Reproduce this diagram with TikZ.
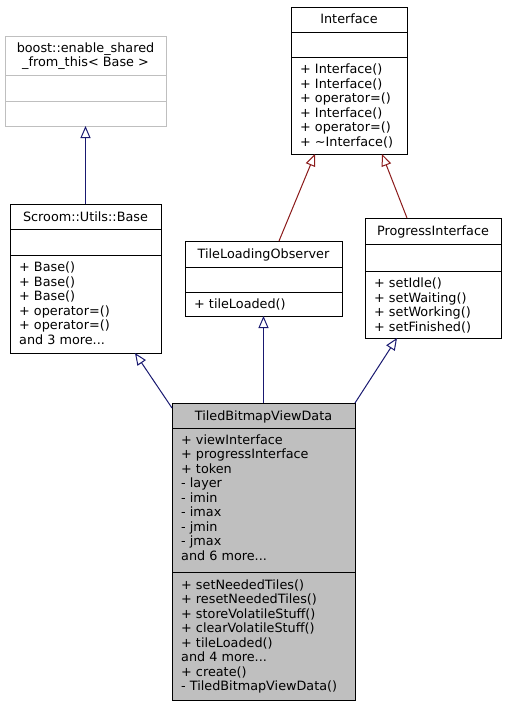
\documentclass[tikz,border=0pt]{standalone}
\usepackage{fontspec}
\setmainfont{DejaVu Sans}
\usetikzlibrary{arrows.meta,calc}
\definecolor{edgeblue}{HTML}{191970}
\definecolor{edgered}{HTML}{8B1A1A}
\definecolor{boxgrey}{HTML}{BFBFBF}
\definecolor{lightframe}{HTML}{BFBFBF}
\newcommand\umlframe[8]{% name, x1,y1,x2,y2,sep1,sep2, style
  \node[box,#8,minimum width=#4pt-#2pt,minimum height=#5pt-#3pt] (#1) at (#2,#3) {};
  \draw[#8,fill=none] (#2,#6) -- (#4,#6);
  \draw[#8,fill=none] (#2,#7) -- (#4,#7);
}
\newcommand\moredots{...}
\begin{document}
\begin{tikzpicture}[x=1pt,y=-1pt,
  box/.style={draw=black, line width=1pt, anchor=north west, inner sep=0pt, outer sep=0pt},
  plainbox/.style={draw=black, line width=1pt},
  greybox/.style={draw=black, line width=1pt, fill=boxgrey},
  ghostbox/.style={draw=lightframe, line width=1pt},
  txt/.style={anchor=base west, inner sep=0pt, font=\fontsize{12.8}{14.5}\selectfont},
  ttl/.style={anchor=base, inner sep=0pt, font=\fontsize{12.8}{14.5}\selectfont},
  inh/.style={-{Triangle[open,length=12pt,width=10pt]}, line width=1pt, draw=edgeblue},
  inhr/.style={-{Triangle[open,length=12pt,width=10pt]}, line width=1pt, draw=edgered}]
\useasboundingbox (0,0) rectangle (507,705);

% boost::enable_shared_from_this< Base >
\umlframe{boost}{5}{36}{166}{126}{75}{101}{ghostbox}
\node[ttl] (boostt1) at (85.5,52) {boost::enable\_shared};
\node[ttl] (boostt2) at (85.5,66.5) {\_from\_this< Base >};

% Interface
\umlframe{iface}{291}{7}{407}{154}{32}{57}{plainbox}
\node[ttl] (ifacet) at (349,23) {Interface};
\foreach \t [count=\i from 0] in {+ Interface(),+ Interface(),+ operator=(),+ Interface(),+ operator=(),{+ \textasciitilde Interface()}}
  \node[txt] (ifacem\i) at (300,73.5+14.5*\i) {\t};

% Scroom::Utils::Base
\umlframe{base}{10}{204}{161}{353}{229}{255}{plainbox}
\node[ttl] (baset) at (85.5,221) {Scroom::Utils::Base};
\foreach \t [count=\i from 0] in {+ Base(),+ Base(),+ Base(),+ operator=(),+ operator=(),and 3 more\moredots}
  \node[txt] (basem\i) at (19,271.5+14.5*\i) {\t};

% TileLoadingObserver
\umlframe{tlo}{185}{241}{342}{316}{267}{292}{plainbox}
\node[ttl] (tlot) at (263.5,258) {TileLoadingObserver};
\node[txt] (tlom0) at (194,308.5) {+ tileLoaded()};

% ProgressInterface
\umlframe{pi}{365}{218}{501}{338}{244}{271}{plainbox}
\node[ttl] (pit) at (433,235) {ProgressInterface};
\foreach \t [count=\i from 0] in {+ setIdle(),+ setWaiting(),+ setWorking(),+ setFinished()}
  \node[txt] (pim\i) at (374,287.5+14.5*\i) {\t};

% TiledBitmapViewData
\umlframe{tbvd}{172}{403}{355}{700}{428}{572}{greybox}
\node[ttl] (tbvdt) at (263.5,420) {TiledBitmapViewData};
\foreach \t [count=\i from 0] in {+ viewInterface,+ progressInterface,+ token,- layer,- imin,- imax,- jmin,- jmax,and 6 more\moredots}
  \node[txt] (tbvda\i) at (181,444.5+14.45*\i) {\t};
\foreach \t [count=\i from 0] in {+ setNeededTiles(),+ resetNeededTiles(),+ storeVolatileStuff(),+ clearVolatileStuff(),+ tileLoaded(),and 4 more\moredots,+ create(),- TiledBitmapViewData()}
  \node[txt] (tbvdm\i) at (181,589.5+14.45*\i) {\t};

% inheritance edges
\draw[inh] (base.north) -- (boost.south);
\draw[inhr] ($(tlo.north west)+(94,0)$) -- ($(iface.south west)+(24,0)$);
\draw[inhr] ($(pi.north west)+(42,0)$) -- ($(iface.south west)+(91,0)$);
\draw[inh] (tbvd.north) -- (tlo.south);
\draw[inh] ($(tbvd.north west)+(0,5)$) -- ($(base.south west)+(125,0)$);
\draw[inh] (tbvd.north east) -- ($(pi.south west)+(32,0)$);
\end{tikzpicture}
\end{document}
